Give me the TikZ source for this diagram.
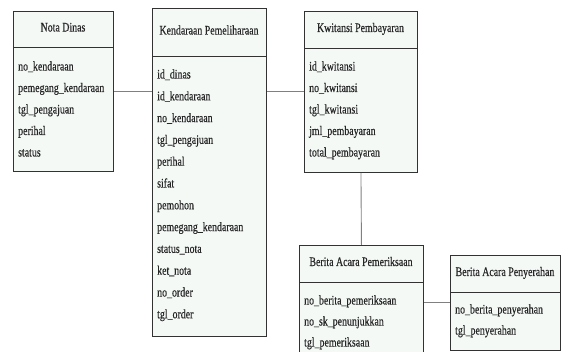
\documentclass[tikz,border=0pt]{standalone}
\usepackage{fontspec}
\setmainfont{Liberation Serif}[FakeStretch=0.76, FakeBold=0.4]
\definecolor{boxfill}{RGB}{244,249,246}
\definecolor{boxline}{RGB}{50,50,50}
\definecolor{connc}{RGB}{128,128,128}
\begin{document}
\begin{tikzpicture}[x=1pt,y=-1pt,
  entity/.style={draw=boxline, fill=boxfill, line width=0.9pt, inner sep=0pt, anchor=north west},
  sep/.style={draw=boxline, line width=0.9pt},
  txt/.style={font=\fontsize{13}{15}\selectfont, text=black!85, inner sep=0pt, text height=0.7em, text depth=0.2em},
  attr/.style={txt, anchor=west},
  ttl/.style={txt, anchor=center},
  link/.style={draw=connc, line width=0.9pt}]
\useasboundingbox (0,0) rectangle (562,352);
\clip (0,0) rectangle (562,352);
\fill[white] (0,0) rectangle (562,352);

% Nota Dinas
\node[entity, minimum width=100pt, minimum height=160pt] (nd) at (13,11) {};
\draw[sep] (nd.west |- 0,47) -- (nd.east |- 0,47);
\node[ttl] (ndt) at (63,29) {Nota Dinas};
\node[attr] (nd1) at (18,68) {no\_kendaraan};
\node[attr] (nd2) at (18,89.5) {pemegang\_kendaraan};
\node[attr] (nd3) at (18,111) {tgl\_pengajuan};
\node[attr] (nd4) at (18,132.5) {perihal};
\node[attr] (nd5) at (18,154) {status};

% Kendaraan Pemeliharaan
\node[entity, minimum width=114pt, minimum height=328pt] (kp) at (152,8) {};
\draw[sep] (kp.west |- 0,56) -- (kp.east |- 0,56);
\node[ttl] (kpt) at (209,32) {Kendaraan Pemeliharaan};
\node[attr] (kp1) at (157,76) {id\_dinas};
\node[attr] (kp2) at (157,97.8) {id\_kendaraan};
\node[attr] (kp3) at (157,119.6) {no\_kendaraan};
\node[attr] (kp4) at (157,141.4) {tgl\_pengajuan};
\node[attr] (kp5) at (157,163.2) {perihal};
\node[attr] (kp6) at (157,185) {sifat};
\node[attr] (kp7) at (157,206.8) {pemohon};
\node[attr] (kp8) at (157,228.6) {pemegang\_kendaraan};
\node[attr] (kp9) at (157,250.4) {status\_nota};
\node[attr] (kp10) at (157,272.2) {ket\_nota};
\node[attr] (kp11) at (157,294) {no\_order};
\node[attr] (kp12) at (157,315.8) {tgl\_order};

% Kwitansi Pembayaran
\node[entity, minimum width=113pt, minimum height=161pt] (kw) at (304,11) {};
\draw[sep] (kw.west |- 0,48) -- (kw.east |- 0,48);
\node[ttl] (kwt) at (360.5,29.5) {Kwitansi Pembayaran};
\node[attr] (kw1) at (309,68) {id\_kwitansi};
\node[attr] (kw2) at (309,89.5) {no\_kwitansi};
\node[attr] (kw3) at (309,111) {tgl\_kwitansi};
\node[attr] (kw4) at (309,132.5) {jml\_pembayaran};
\node[attr] (kw5) at (309,154) {total\_pembayaran};

% Berita Acara Pemeriksaan
\node[entity, minimum width=124pt, minimum height=130pt] (bp) at (299,245) {};
\draw[sep] (bp.west |- 0,282) -- (bp.east |- 0,282);
\node[ttl] (bpt) at (361,263.5) {Berita Acara Pemeriksaan};
\node[attr] (bp1) at (304,302) {no\_berita\_pemeriksaan};
\node[attr] (bp2) at (304,323) {no\_sk\_penunjukkan};
\node[attr] (bp3) at (304,344) {tgl\_pemeriksaan};

% Berita Acara Penyerahan
\node[entity, minimum width=110pt, minimum height=95pt] (bs) at (450,255) {};
\draw[sep] (bs.west |- 0,292) -- (bs.east |- 0,292);
\node[ttl] (bst) at (505,273.5) {Berita Acara Penyerahan};
\node[attr] (bs1) at (455,311) {no\_berita\_penyerahan};
\node[attr] (bs2) at (455,332) {tgl\_penyerahan};

% connectors
\draw[link] (nd.east) -- (nd.east -| kp.west);
\draw[link] (kw.west -| kp.east) -- (kw.west);
\draw[link] (kw.south) -- (bp.north);
\draw[link] (bs.west -| bp.east) -- (bs.west);
\end{tikzpicture}
\end{document}
